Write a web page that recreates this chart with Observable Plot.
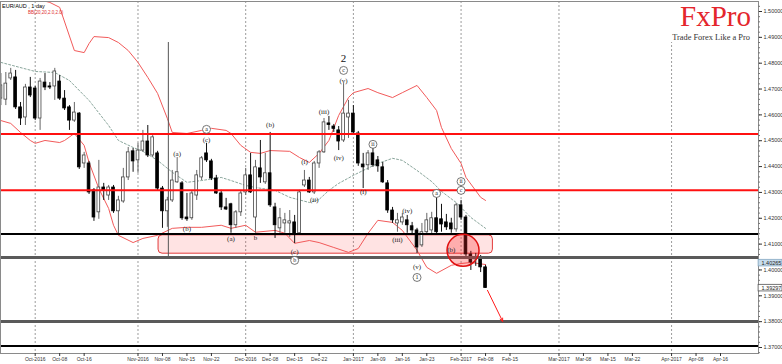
<!DOCTYPE html>
<html><head><meta charset="utf-8">
<script src="https://cdn.jsdelivr.net/npm/d3@7"></script>
<script src="https://cdn.jsdelivr.net/npm/@observablehq/plot@0.6"></script>
<style>
body{margin:0;background:#fff;}
#chart svg{display:block;}
</style>
</head><body><div id="chart"></div>
<script>
// ---- data (bar index 0 = first trading day of Oct-2016) ----
const firstIndex = -7;
const open = [
1.4663,1.4659,1.4741,1.4745,1.4629,1.4590,1.4706,1.4702,1.4586,1.4725,
1.4710,1.4710,1.4729,1.4663,1.4629,1.4578,1.4605,1.4412,1.4412,1.4308,
1.4223,1.4319,1.4288,1.4319,1.4227,1.4265,1.4358,1.4459,1.4424,1.4462,
1.4497,1.4443,1.4451,1.4315,1.4227,1.4269,1.4339,1.4335,1.4203,1.4200,
1.4288,1.4358,1.4451,1.4420,1.4354,1.4296,1.4242,1.4254,1.4173,1.4223,
1.4300,1.4366,1.4203,1.4393,1.4339,1.4374,1.4242,1.4161,1.4180,1.4180,
1.4184,1.4142,1.4327,1.4346,1.4300,1.4412,1.4455,1.4567,1.4555,1.4540,
1.4501,1.4590,1.4605,1.4528,1.4408,1.4405,1.4451,1.4424,1.4397,1.4335,
1.4230,1.4180,1.4184,1.4192,1.4169,1.4153,1.4095,1.4146,1.4153,1.4200,
1.4196,1.4184,1.4180,1.4157,1.4250,1.4203,1.4060,1.4048,1.4048,1.4010];
const high = [
1.4760,1.4764,1.4780,1.4772,1.4648,1.4718,1.4745,1.4710,1.4741,1.4760,
1.4725,1.4780,1.4752,1.4694,1.4636,1.4648,1.4609,1.4455,1.4420,1.4315,
1.4424,1.4335,1.4327,1.4327,1.4285,1.4393,1.4474,1.4470,1.4490,1.4540,
1.4559,1.4520,1.4459,1.4323,1.4281,1.4385,1.4435,1.4342,1.4296,1.4304,
1.4385,1.4439,1.4490,1.4428,1.4366,1.4308,1.4277,1.4258,1.4230,1.4308,
1.4393,1.4451,1.4424,1.4501,1.4451,1.4532,1.4258,1.4238,1.4219,1.4230,
1.4211,1.4308,1.4385,1.4358,1.4420,1.4462,1.4586,1.4594,1.4563,1.4555,
1.4721,1.4656,1.4636,1.4536,1.4451,1.4462,1.4470,1.4439,1.4416,1.4346,
1.4242,1.4219,1.4219,1.4211,1.4184,1.4161,1.4180,1.4219,1.4223,1.4281,
1.4254,1.4215,1.4200,1.4258,1.4269,1.4211,1.4072,1.4064,1.4056,1.4018];
const low = [
1.4636,1.4636,1.4733,1.4621,1.4559,1.4559,1.4667,1.4578,1.4540,1.4694,
1.4698,1.4656,1.4656,1.4617,1.4540,1.4571,1.4389,1.4393,1.4292,1.4188,
1.4196,1.4269,1.4269,1.4219,1.4134,1.4258,1.4346,1.4378,1.4374,1.4455,
1.4435,1.4435,1.4308,1.4161,1.4165,1.4261,1.4335,1.4192,1.4188,1.4192,
1.4269,1.4346,1.4416,1.4346,1.4292,1.4230,1.4230,1.4142,1.4161,1.4207,
1.4288,1.4296,1.4142,1.4335,1.4331,1.4242,1.4122,1.4142,1.4142,1.4126,
1.4102,1.4138,1.4319,1.4296,1.4292,1.4393,1.4451,1.4540,1.4532,1.4462,
1.4493,1.4509,1.4524,1.4401,1.4315,1.4385,1.4397,1.4378,1.4335,1.4219,
1.4180,1.4146,1.4173,1.4142,1.4134,1.4064,1.4087,1.4138,1.4134,1.4134,
1.4146,1.4153,1.4142,1.4146,1.4192,1.4052,1.3998,1.4014,1.3990,1.3929];
const close = [
1.4714,1.4721,1.4760,1.4629,1.4586,1.4706,1.4675,1.4586,1.4729,1.4706,
1.4706,1.4768,1.4663,1.4625,1.4578,1.4609,1.4397,1.4443,1.4300,1.4203,
1.4319,1.4308,1.4319,1.4227,1.4269,1.4358,1.4455,1.4420,1.4462,1.4497,
1.4443,1.4513,1.4315,1.4227,1.4269,1.4346,1.4378,1.4200,1.4196,1.4296,
1.4366,1.4432,1.4424,1.4354,1.4296,1.4242,1.4234,1.4173,1.4223,1.4296,
1.4366,1.4300,1.4397,1.4358,1.4374,1.4250,1.4173,1.4200,1.4192,1.4188,
1.4138,1.4300,1.4346,1.4300,1.4412,1.4455,1.4571,1.4561,1.4546,1.4497,
1.4605,1.4605,1.4532,1.4412,1.4397,1.4451,1.4405,1.4401,1.4339,1.4230,
1.4192,1.4192,1.4203,1.4173,1.4153,1.4087,1.4146,1.4192,1.4200,1.4146,
1.4176,1.4165,1.4157,1.4250,1.4203,1.4060,1.4029,1.4041,1.4010,1.3930];

// Bollinger bands (20, 2.0)
const upperIdx = [-7,-3,0,3,5,8,10,11,12,15,17,19,21,23,25,27,28,31,34,36,39,40,42,44,46,48,52,54,56,58,60,62,64,65,68,70,73,75,78,80,82,83,85,87,88,91,92];
const upperVal = [1.5089,1.5074,1.5050,1.5035,1.5016,1.4849,1.4841,1.4876,1.4903,1.4899,1.4880,1.4849,1.4803,1.4745,1.4683,1.4586,1.4532,1.4528,1.4540,1.4548,1.4540,1.4528,1.4482,1.4455,1.4451,1.4462,1.4459,1.4435,1.4416,1.4451,1.4501,1.4598,1.4667,1.4686,1.4702,1.4686,1.4667,1.4686,1.4714,1.4667,1.4617,1.4551,1.4470,1.4412,1.4358,1.4281,1.4269];
const lowerIdx = [-7,-5,-3,-1,0,2,5,6,8,10,11,13,15,16,17,20,22,25,28,31,34,38,40,43,45,49,51,53,56,58,61,64,66,68,70,73,75,78,80,82,85,87,89,92];
const lowerVal = [1.4578,1.4567,1.4532,1.4501,1.4490,1.4501,1.4493,1.4501,1.4528,1.4482,1.4416,1.4315,1.4238,1.4173,1.4134,1.4106,1.4122,1.4134,1.4161,1.4165,1.4165,1.4173,1.4161,1.4173,1.4146,1.4153,1.4142,1.4103,1.4114,1.4106,1.4087,1.4068,1.4083,1.4142,1.4192,1.4184,1.4153,1.4076,1.4010,1.3987,1.4018,1.4025,1.4029,1.4021];
const midIdx = [-7,0,4,7,11,15,17,20,22,25,28,31,34,38,40,43,45,49,52,56,58,60,62,65,67,70,73,75,78,81,83,86,89,92];
const midVal = [1.4803,1.4768,1.4764,1.4733,1.4656,1.4559,1.4501,1.4474,1.4459,1.4424,1.4378,1.4339,1.4346,1.4358,1.4346,1.4327,1.4319,1.4308,1.4281,1.4261,1.4273,1.4308,1.4335,1.4366,1.4385,1.4412,1.4432,1.4424,1.4385,1.4342,1.4304,1.4261,1.4203,1.4161];

// Horizontal levels
const redLevels = [1.4526, 1.4308];
const blackLevels = [1.4139, 1.3706];
const grayLevels = [1.4048, 1.3801];

// Support zone, highlight circle, projection arrow, vertical marker
const zoneStart = 25.2, zoneEnd = 93.5, zoneLow = 1.4063, zoneHigh = 1.4134;
const circleIdx = 87.4, circlePrice = 1.4076;
const arrowFrom = [92.4, 1.3921], arrowTo = [95.5, 1.3801];
const vlineIdx = 27.2, vlineTop = 1.4880, vlineBottom = 1.4048;

// Wave labels
const parenText  = ["(c)","(a)","(b)","(a)","b","(b)","(c)","(i)","(ii)","(iii)","(iv)","(v)","(i)","(iii)","(iv)","(v)","(b)"];
const parenIdx   = [35,29,31,40,45,48,53,55,57,59,62,63,67,74,76,78,85];
const parenPrice = [1.4505,1.4451,1.4161,1.4122,1.4126,1.4563,1.4072,1.4420,1.4273,1.4613,1.4435,1.4733,1.4304,1.4118,1.4230,1.4014,1.4079];
const circText  = ["a","b","c","ii","1","a","ii","c"];
const circIdx   = [35,53,63,69,78,82,87,87];
const circPrice = [1.4544,1.4037,1.4772,1.4486,1.3971,1.4296,1.4342,1.4308];
const bigText = ["2"], bigIdx = [63], bigPrice = [1.4818];

// Axes
const tickIdx = [0,5,10,21,26,31,36,43,48,53,58,65,70,75,80,87,92,97,107,112,117,122,130,135,140];
const tickLabels = ["Oct-2016","Oct-08","Oct-16","Nov-2016","Nov-08","Nov-15","Nov-22","Dec-2016","Dec-08","Dec-15","Dec-22","Jan-2017","Jan-09","Jan-16","Jan-23","Feb-2017","Feb-08","Feb-15","Mar-2017","Mar-08","Mar-15","Mar-22","Apr-2017","Apr-08","Apr-16"];
const monthIdx = [0,21,43,65,87,107,130];
const yTicks = [1.37,1.38,1.39,1.40,1.41,1.42,1.43,1.44,1.45,1.46,1.47,1.48,1.49,1.50];
const bidPrice = 1.40265, lastPrice = 1.39297;

// ---- build ----
const xDomain = [-7.089, 147.76];
const yDomain = [1.36768, 1.50387];
const pxPerBar = 758 / (xDomain[1] - xDomain[0]);
const pxPerUnit = 352 / (yDomain[1] - yDomain[0]);

const candles = open.map((o, k) => ({i: firstIndex + k, o, h: high[k], l: low[k], c: close[k]}));
const ups = candles.filter(d => d.c >= d.o);
const downs = candles.filter(d => d.c < d.o);
const mk = (idx, val) => idx.map((d, k) => ({i: d, v: val[k]}));
const upper = mk(upperIdx, upperVal), lower = mk(lowerIdx, lowerVal), mid = mk(midIdx, midVal);
const labelMap = new Map(tickIdx.map((d, k) => [d, tickLabels[k]]));
const paren = parenText.map((t, k) => ({t, i: parenIdx[k], p: parenPrice[k]}));
const circ = circText.map((t, k) => ({t, i: circIdx[k], p: circPrice[k]}));
const big = bigText.map((t, k) => ({t, i: bigIdx[k], p: bigPrice[k]}));
const minorTicks = d3.range(1.368, 1.5035, 0.002);
const xr = xDomain[1];
const boxH = 3.3 / pxPerUnit, boxW = 24 / pxPerBar;
const priceBoxes = [
  {p: bidPrice, fill: "#c8dded", stroke: "#86a9c2"},
  {p: lastPrice, fill: "#ffffff", stroke: "#555"}
];
const serif = "Liberation Serif, Times New Roman, serif";

const chart = Plot.plot({
  width: 782, height: 364,
  marginLeft: 0, marginRight: 24, marginTop: 1, marginBottom: 11,
  x: {domain: xDomain, label: null},
  y: {domain: yDomain, label: null},
  style: {fontFamily: "Liberation Sans, Arial, sans-serif", background: "#fff", overflow: "visible"},
  marks: [
    Plot.ruleX(monthIdx, {stroke: "#9c9c9c", strokeDasharray: "2,2", strokeWidth: 1}),
    Plot.rect([0], {x1: zoneStart, x2: zoneEnd, y1: zoneLow, y2: zoneHigh, fill: "#ff2a2a", fillOpacity: 0.13, stroke: "#e23a3a", strokeWidth: 1, rx: 4}),
    Plot.line(mid, {x: "i", y: "v", stroke: "#8aa69c", strokeWidth: 1, strokeDasharray: "2,2", clip: true}),
    Plot.line(upper, {x: "i", y: "v", stroke: "#f25a5a", strokeWidth: 1, clip: true}),
    Plot.line(lower, {x: "i", y: "v", stroke: "#f25a5a", strokeWidth: 1, clip: true}),
    Plot.ruleX([0], {x: vlineIdx, y1: vlineTop, y2: vlineBottom, stroke: "#555", strokeWidth: 1}),
    Plot.ruleX(ups, {x: "i", y1: "l", y2: "h", stroke: "#666", strokeWidth: 1, clip: true}),
    Plot.ruleX(downs, {x: "i", y1: "l", y2: "h", stroke: "#111", strokeWidth: 1, clip: true}),
    Plot.rect(ups, {x1: d => d.i - 0.28, x2: d => d.i + 0.28, y1: "o", y2: "c", fill: "#fff", stroke: "#444", strokeWidth: 0.8, clip: true}),
    Plot.rect(downs, {x1: d => d.i - 0.28, x2: d => d.i + 0.28, y1: "o", y2: "c", fill: "#000", stroke: "#000", strokeWidth: 0.8, clip: true}),
    Plot.ruleY(grayLevels, {stroke: "#5a5a5a", strokeWidth: 3}),
    Plot.ruleY(blackLevels, {stroke: "#000", strokeWidth: 2}),
    Plot.ruleY(redLevels, {stroke: "#ff1010", strokeWidth: 2}),
    Plot.dot([0], {x: circleIdx, y: circlePrice, r: 16, fill: "#ff2020", fillOpacity: 0.28, stroke: "#e01010", strokeWidth: 1.5}),
    Plot.arrow([0], {x1: arrowFrom[0], y1: arrowFrom[1], x2: arrowTo[0], y2: arrowTo[1], stroke: "#ff1a1a", strokeWidth: 1, headLength: 5, headAngle: 50}),
    Plot.text(paren, {x: "i", y: "p", text: "t", fontSize: 7, fontFamily: serif, fill: "#222"}),
    Plot.dot(circ, {x: "i", y: "p", r: 4, fill: "#fff", stroke: "#555", strokeWidth: 0.8}),
    Plot.text(circ, {x: "i", y: "p", text: "t", fontSize: 6, fontFamily: serif, fill: "#222"}),
    Plot.text(big, {x: "i", y: "p", text: "t", fontSize: 11, fontFamily: serif, fill: "#111"}),
    Plot.frame({stroke: "#8a8a8a"}),
    Plot.ruleY(minorTicks, {x1: xr, x2: xr + 2 / pxPerBar, stroke: "#777", strokeWidth: 1}),
    Plot.axisY(yTicks, {anchor: "right", tickSize: 3, tickPadding: 2, tickFormat: d => d.toFixed(5), fontSize: 5.5, color: "#333", label: null}),
    Plot.axisX(tickIdx, {anchor: "bottom", tickSize: 3, tickPadding: 1, tickFormat: d => labelMap.get(d), fontSize: 5, color: "#333", label: null}),
    Plot.rect(priceBoxes, {x1: xr + 0.1 / pxPerBar, x2: xr + boxW, y1: d => d.p - boxH, y2: d => d.p + boxH, fill: d => d.fill, stroke: d => d.stroke, strokeWidth: 0.8}),
    Plot.text(priceBoxes, {x: xr, y: "p", text: d => d.p.toFixed(5), dx: 3, textAnchor: "start", fontSize: 5.5, fill: "#222"})
  ]
});
document.getElementById("chart").appendChild(chart);

// Header texts and logo box
const svg = d3.select(chart);
svg.append("text").attr("x", 2).attr("y", 7.5).attr("font-size", 5.5).attr("text-anchor", "start")
  .attr("font-family", "Liberation Sans, Arial, sans-serif").attr("fill", "#000").text("EUR/AUD , 1 day");
svg.append("text").attr("x", 28).attr("y", 14).attr("font-size", 4.5).attr("text-anchor", "start")
  .attr("font-family", "Liberation Sans, Arial, sans-serif").attr("fill", "#e03030").text("BB(20,20,2.0,2.0)");
svg.append("rect").attr("x", 648).attr("y", 2).attr("width", 108).attr("height", 40).attr("fill", "#fff");
svg.append("text").attr("x", 751).attr("y", 26).attr("text-anchor", "end").attr("font-size", 29)
  .attr("font-family", serif).attr("fill", "#e4262c").text("FxPro");
svg.append("text").attr("x", 750).attr("y", 40).attr("text-anchor", "end").attr("font-size", 8.4)
  .attr("font-family", serif).attr("fill", "#333").text("Trade Forex Like a Pro");
</script>
</body></html>
